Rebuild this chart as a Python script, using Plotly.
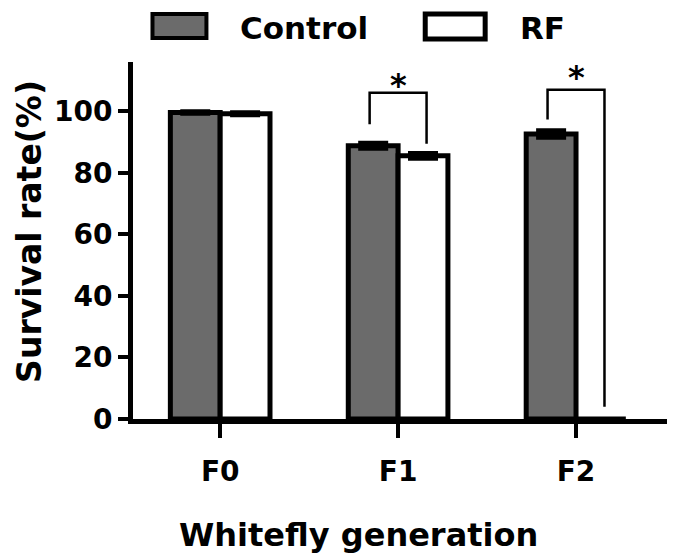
import plotly.graph_objects as go

generations = ["F0", "F1", "F2"]
control = [99.6, 88.8, 92.6]
control_err = [0.4, 1.0, 1.2]
rf = [99.2, 85.5, 0.0]
rf_err = [0.5, 0.9, 0.0]
y_ticks = [0, 20, 40, 60, 80, 100]

# page body has an 8px margin, so the figure is a bit smaller than the window
OFF = 8
W, H = 667, 549
L, R, T, B = 124.5, 7, 54, 137.5
FONT = "DejaVu Sans, Verdana, sans-serif"

x = list(range(len(generations)))
fig = go.Figure()
fig.add_trace(go.Bar(
    x=x, y=control, name="Control",
    marker=dict(color="#6b6b6b", line=dict(color="black", width=5)),
    error_y=dict(type="data", array=control_err, visible=True, color="black", thickness=4, width=15),
    showlegend=False,
))
fig.add_trace(go.Bar(
    x=x, y=rf, name="RF",
    marker=dict(color="white", line=dict(color="black", width=5)),
    error_y=dict(type="data", array=rf_err, visible=True, color="black", thickness=4, width=15),
    showlegend=False,
))

off = 0.14
shapes = []
annotations = []
# significance brackets: (category, top, left foot, right foot, star shift)
brackets = [
    (1, 106, control[1] + control_err[1] + 6, rf[1] + rf_err[1] + 3, -13),
    (2, 107, control[2] + control_err[2] + 3.5, rf[2] + 4, -8),
]
for cat, top, lbot, rbot, ys in brackets:
    xl, xr = cat - off - 0.02, cat + off + 0.02
    shapes.append(dict(type="path", xref="x", yref="y",
                       path=f"M {xl} {lbot} L {xl} {top} L {xr} {top} L {xr} {rbot}",
                       line=dict(color="black", width=2.5)))
    annotations.append(dict(x=cat, y=top, xref="x", yref="y", text="*", showarrow=False,
                            yanchor="bottom", yshift=ys,
                            font=dict(family=FONT, size=32, color="black", weight="bold")))

# screen-pixel -> paper helpers for decorative legend / titles
def px(xs):
    return (xs - OFF - L) / (W - L - R)
def py(ys):
    return (H - B - (ys - OFF)) / (H - T - B)

shapes.append(dict(type="rect", xref="paper", yref="paper",
                   x0=px(152), x1=px(206), y0=py(38), y1=py(14),
                   fillcolor="#6b6b6b", line=dict(color="black", width=4)))
shapes.append(dict(type="rect", xref="paper", yref="paper",
                   x0=px(425), x1=px(485), y0=py(39), y1=py(14),
                   fillcolor="white", line=dict(color="black", width=5)))
annotations.append(dict(x=px(238), y=py(OFF), xref="paper", yref="paper", text="Control",
                        showarrow=False, xanchor="left", yanchor="top",
                        font=dict(family=FONT, size=31, color="black", weight="bold")))
annotations.append(dict(x=px(518), y=py(OFF), xref="paper", yref="paper", text="RF",
                        showarrow=False, xanchor="left", yanchor="top",
                        font=dict(family=FONT, size=31, color="black", weight="bold")))
# axis titles
annotations.append(dict(x=px(358), y=py(536), xref="paper", yref="paper",
                        text="Whitefly generation", showarrow=False,
                        xanchor="center", yanchor="middle",
                        font=dict(family=FONT, size=32, color="black", weight="bold")))
annotations.append(dict(x=px(OFF), y=py(232), xref="paper", yref="paper",
                        text="Survival rate(%)", showarrow=False, textangle=-90,
                        xanchor="left", yanchor="middle",
                        font=dict(family=FONT, size=33, color="black", weight="bold")))

fig.update_layout(
    width=W, height=H,
    margin=dict(l=L, r=R, t=T, b=B),
    paper_bgcolor="white", plot_bgcolor="white",
    barmode="group", bargap=0.44, bargroupgap=0,
    shapes=shapes, annotations=annotations,
    font=dict(family=FONT, size=28, color="black", weight="bold"),
    xaxis=dict(
        range=[-0.49, 2.517], automargin=False,
        tickvals=x, ticktext=generations,
        showline=True, linecolor="black", linewidth=5,
        ticks="outside", ticklen=14, tickwidth=4, tickcolor="black",
        ticklabelstandoff=9,
        showgrid=False, zeroline=False,
        tickfont=dict(family=FONT, size=28, color="black", weight="bold"),
    ),
    yaxis=dict(
        range=[0, 116], automargin=False,
        tickvals=y_ticks,
        showline=True, linecolor="black", linewidth=5,
        ticks="outside", ticklen=10, tickwidth=4, tickcolor="black",
        showgrid=False, zeroline=False,
        tickfont=dict(family=FONT, size=28, color="black", weight="bold"),
    ),
)

fig.write_html("out.html")
